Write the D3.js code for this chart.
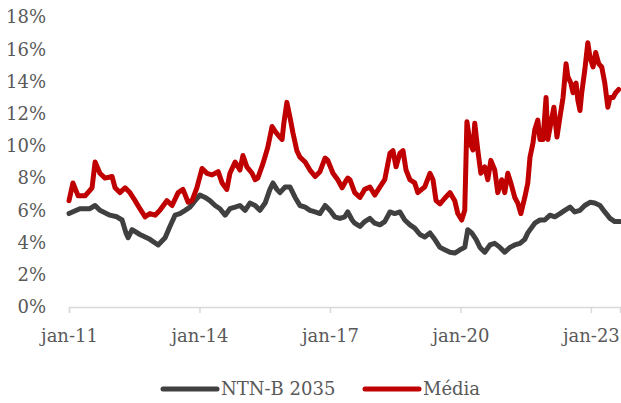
<!DOCTYPE html>
<html>
<head>
<meta charset="utf-8">
<script src="https://cdn.jsdelivr.net/npm/d3@7"></script>
<style>
	body { margin: 0; background: #fff; }
	svg text { font-family: "DejaVu Serif", "Liberation Serif", serif; fill: #595959; }
</style>
</head>
<body>
<svg width="621" height="403"></svg>
<script>
// decimal years, values in %
let ntnbDates = [2011.00, 2011.25, 2011.48, 2011.60, 2011.71, 2011.94, 2012.10, 2012.22, 2012.31, 2012.36,
	2012.45, 2012.63, 2012.86, 2013.05, 2013.21, 2013.32, 2013.44, 2013.55, 2013.67, 2013.78,
	2013.90, 2014.01, 2014.13, 2014.24, 2014.36, 2014.47, 2014.59, 2014.70, 2014.82, 2014.93,
	2015.05, 2015.16, 2015.28, 2015.39, 2015.51, 2015.62, 2015.69, 2015.78, 2015.85, 2015.97,
	2016.08, 2016.20, 2016.31, 2016.43, 2016.54, 2016.66, 2016.77, 2016.89, 2017.00, 2017.11,
	2017.23, 2017.34, 2017.41, 2017.51, 2017.57, 2017.69, 2017.80, 2017.92, 2018.03, 2018.15,
	2018.26, 2018.38, 2018.49, 2018.61, 2018.72, 2018.84, 2018.95, 2019.07, 2019.18, 2019.30,
	2019.41, 2019.53, 2019.64, 2019.76, 2019.87, 2019.99, 2020.10, 2020.17, 2020.26, 2020.36,
	2020.45, 2020.56, 2020.68, 2020.79, 2020.91, 2021.02, 2021.14, 2021.25, 2021.37, 2021.48,
	2021.55, 2021.71, 2021.83, 2021.94, 2022.06, 2022.17, 2022.29, 2022.40, 2022.52, 2022.63,
	2022.75, 2022.86, 2022.98, 2023.09, 2023.21, 2023.32, 2023.44, 2023.55, 2023.67];
let ntnbValues = [5.8, 6.1, 6.1, 6.3, 6.0, 5.7, 5.6, 5.4, 4.6, 4.3,
	4.8, 4.5, 4.2, 3.85, 4.3, 5.0, 5.7, 5.8, 6.0, 6.2,
	6.6, 6.95, 6.8, 6.6, 6.3, 6.1, 5.7, 6.1, 6.2, 6.3,
	6.0, 6.45, 6.3, 6.0, 6.45, 7.3, 7.7, 7.3, 7.1, 7.45,
	7.45, 6.8, 6.3, 6.2, 6.0, 5.9, 5.8, 6.3, 6.0, 5.6,
	5.5, 5.6, 5.9, 5.4, 5.2, 5.0, 5.3, 5.5, 5.2, 5.1,
	5.3, 5.9, 5.8, 5.9, 5.4, 5.1, 4.9, 4.5, 4.35, 4.6,
	4.2, 3.7, 3.55, 3.4, 3.35, 3.55, 3.7, 4.8, 4.6, 4.2,
	3.7, 3.4, 3.85, 3.95, 3.7, 3.4, 3.7, 3.85, 3.95, 4.2,
	4.6, 5.2, 5.4, 5.4, 5.7, 5.6, 5.8, 6.0, 6.2, 5.9,
	6.0, 6.3, 6.5, 6.45, 6.3, 5.9, 5.5, 5.3, 5.3];

let mediaDates = [2011.00, 2011.09, 2011.21, 2011.37, 2011.53, 2011.60, 2011.71, 2011.83, 2011.99, 2012.06,
	2012.17, 2012.29, 2012.40, 2012.52, 2012.63, 2012.75, 2012.86, 2012.98, 2013.09, 2013.25,
	2013.37, 2013.51, 2013.62, 2013.74, 2013.83, 2013.94, 2014.06, 2014.17, 2014.29, 2014.43,
	2014.52, 2014.63, 2014.70, 2014.82, 2014.93, 2015.00, 2015.09, 2015.21, 2015.28, 2015.34,
	2015.46, 2015.57, 2015.67, 2015.74, 2015.83, 2015.90, 2015.94, 2016.01, 2016.08, 2016.15,
	2016.24, 2016.31, 2016.43, 2016.54, 2016.66, 2016.77, 2016.89, 2016.95, 2017.07, 2017.18,
	2017.28, 2017.34, 2017.41, 2017.46, 2017.57, 2017.69, 2017.80, 2017.92, 2018.03, 2018.15,
	2018.26, 2018.38, 2018.45, 2018.52, 2018.61, 2018.68, 2018.75, 2018.84, 2018.95, 2019.02,
	2019.11, 2019.18, 2019.30, 2019.37, 2019.44, 2019.53, 2019.64, 2019.76, 2019.87, 2019.94,
	2020.03, 2020.10, 2020.15, 2020.22, 2020.29, 2020.33, 2020.40, 2020.47, 2020.56, 2020.63,
	2020.70, 2020.79, 2020.86, 2020.95, 2021.02, 2021.09, 2021.16, 2021.25, 2021.32, 2021.39,
	2021.48, 2021.55, 2021.60, 2021.67, 2021.71, 2021.78, 2021.83, 2021.90, 2021.97, 2022.01,
	2022.08, 2022.15, 2022.22, 2022.29, 2022.36, 2022.43, 2022.47, 2022.54, 2022.59, 2022.66,
	2022.70, 2022.75, 2022.79, 2022.86, 2022.93, 2022.98, 2023.05, 2023.11, 2023.18, 2023.25,
	2023.32, 2023.39, 2023.44, 2023.51, 2023.57, 2023.64];
let mediaValues = [6.6, 7.7, 6.9, 6.9, 7.4, 9.0, 8.3, 8.0, 8.1, 7.4,
	7.1, 7.4, 7.1, 6.6, 6.1, 5.6, 5.8, 5.7, 6.0, 6.6,
	6.3, 7.1, 7.3, 6.5, 6.6, 7.4, 8.6, 8.3, 8.2, 8.4,
	7.7, 7.3, 8.3, 9.0, 8.5, 9.4, 8.7, 8.3, 7.9, 8.0,
	8.9, 9.9, 11.2, 10.9, 10.6, 10.4, 11.4, 12.7, 11.8, 10.8,
	9.7, 9.3, 9.0, 8.5, 8.1, 8.4, 9.25, 9.1, 8.3, 7.9,
	7.4, 7.7, 8.0, 7.9, 7.1, 6.8, 7.3, 7.45, 6.95, 7.45,
	7.9, 9.55, 9.7, 8.7, 9.55, 9.7, 8.5, 7.9, 7.7, 7.1,
	7.3, 7.45, 8.3, 7.9, 6.6, 6.4, 6.75, 7.1, 6.6, 5.8,
	5.4, 6.0, 11.5, 10.2, 9.75, 11.4, 9.75, 8.3, 8.7, 7.9,
	9.1, 8.5, 7.1, 7.9, 7.1, 8.3, 7.7, 6.8, 6.45, 5.8,
	6.8, 7.7, 9.3, 10.2, 11.0, 11.6, 10.4, 10.4, 13.0, 10.4,
	11.4, 12.4, 10.55, 11.8, 13.0, 15.1, 14.3, 13.9, 13.3, 13.9,
	12.85, 12.2, 13.3, 14.7, 16.4, 15.5, 14.9, 15.8, 15.1, 14.9,
	13.9, 12.4, 13.0, 13.0, 13.3, 13.5];

let yTicks = [0, 2, 4, 6, 8, 10, 12, 14, 16, 18];
let xTicks = [2011, 2014, 2017, 2020, 2023];
let seriesNames = ["NTN-B 2035", "Média"];
let seriesColors = ["#404040", "#c00000"];

let svg = d3.select("svg");

let x = d3.scaleLinear().domain([2011, 2023.67]).range([69, 620]);
let y = d3.scaleLinear().domain([0, 18]).range([307, 17]);

// y labels (no axis line)
svg.append("g")
	.selectAll("text")
	.data(yTicks)
	.enter()
	.append("text")
	.attr("x", 46)
	.attr("y", function(d) { return y(d); })
	.attr("dy", "0.35em")
	.attr("text-anchor", "end")
	.style("font-size", "18px")
	.text(function(d) { return d + "%"; });

// x axis
let xAxis = svg.append("g")
	.attr("transform", "translate(0,307)")
	.call(d3.axisBottom(x)
		.tickValues(xTicks)
		.tickSize(6)
		.tickPadding(16)
		.tickFormat(function(d) { return "jan-" + String(d).slice(2); }));
xAxis.select(".domain").attr("stroke", "#d9d9d9").attr("stroke-width", 1.5);
xAxis.selectAll(".tick line").attr("stroke", "#d9d9d9").attr("stroke-width", 1.5);
xAxis.selectAll(".tick text")
	.attr("fill", "#595959")
	.style("font-size", "18px")
	.style("font-family", "DejaVu Serif, Liberation Serif, serif");

let line = d3.line()
	.x(function(d) { return x(d[0]); })
	.y(function(d) { return y(d[1]); });

let series = [
	d3.zip(ntnbDates, ntnbValues),
	d3.zip(mediaDates, mediaValues)
];

svg.selectAll(".series")
	.data(series)
	.enter()
	.append("path")
	.attr("class", "series")
	.attr("fill", "none")
	.attr("stroke", function(d, i) { return seriesColors[i]; })
	.attr("stroke-width", 5)
	.attr("stroke-linejoin", "round")
	.attr("stroke-linecap", "round")
	.attr("d", line);

// legend
let legendX = [163, 365];
let legend = svg.selectAll(".legend")
	.data(seriesNames)
	.enter()
	.append("g")
	.attr("class", "legend")
	.attr("transform", function(d, i) { return "translate(" + legendX[i] + ",389)"; });

legend.append("line")
	.attr("x1", 0)
	.attr("x2", 54)
	.attr("stroke", function(d, i) { return seriesColors[i]; })
	.attr("stroke-width", 5)
	.attr("stroke-linecap", "round");

legend.append("text")
	.attr("x", 58)
	.attr("dy", "0.35em")
	.style("font-size", "18px")
	.text(function(d) { return d; });
</script>
</body>
</html>
